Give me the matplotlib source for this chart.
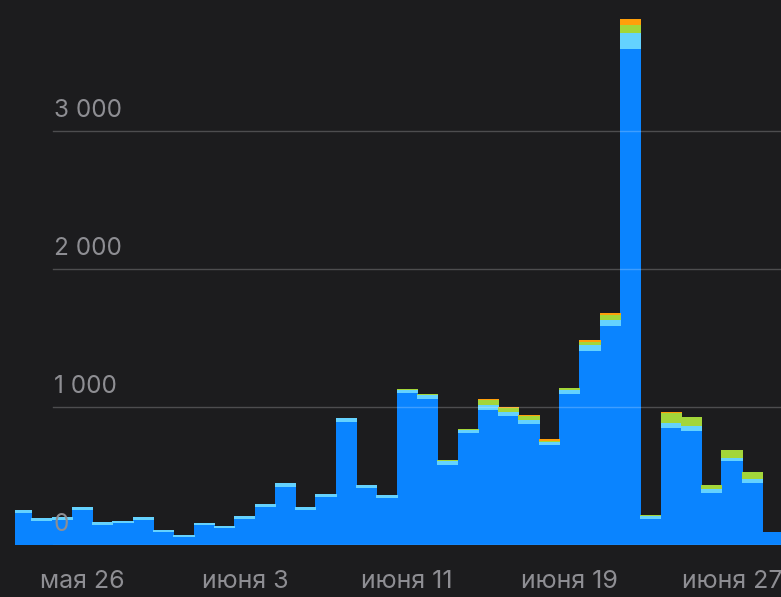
import numpy as np
import matplotlib
matplotlib.use("Agg")
import matplotlib.pyplot as plt

# Daily counts from May 23 to June 29, stacked by category
days = list(range(38))
blue = [232, 172, 178, 256, 145, 156, 179, 91, 55, 142,
        120, 186, 273, 422, 252, 348, 894, 416, 340, 1100,
        1061, 583, 812, 977, 933, 880, 724, 1098, 1407, 1590,
        3599, 187, 852, 830, 375, 609, 447, 91]
cyan = [22, 22, 22, 22, 20, 20, 22, 18, 15, 20,
        20, 22, 22, 25, 22, 22, 25, 22, 22, 25,
        25, 25, 25, 35, 30, 30, 25, 28, 40, 45,
        115, 20, 35, 35, 30, 25, 30, 5]
green = [0, 0, 0, 0, 0, 0, 0, 0, 0, 0,
         0, 0, 0, 0, 0, 0, 0, 0, 0, 8,
         8, 5, 5, 40, 30, 25, 5, 10, 25, 30,
         55, 8, 70, 60, 30, 55, 50, 0]
orange = [0, 0, 0, 0, 0, 0, 0, 0, 0, 0,
          0, 0, 0, 0, 0, 0, 0, 0, 0, 0,
          0, 0, 0, 5, 5, 8, 12, 0, 15, 15,
          45, 0, 5, 5, 0, 0, 0, 0]

tick_pos = [3, 11, 19, 27, 35]
tick_labels = ["мая 26", "июня 3", "июня 11", "июня 19", "июня 27"]
y_ticks = [0, 1000, 2000, 3000]
y_labels = ["0", "1 000", "2 000", "3 000"]

BG = "#1c1c1e"
TXT = "#8e8e93"
plt.rcParams['font.family'] = ['Inter', 'DejaVu Sans']

W, H = 781, 597
fig = plt.figure(figsize=(W / 100, H / 100), dpi=100, facecolor=BG)
# axes in pixel terms: left 15, right 781, baseline at 545 from top
ax = fig.add_axes([15 / W, (H - 545) / H, 766 / W, 545 / H])
ax.set_facecolor(BG)

x = np.array(days)
b = np.array(blue)
c = np.array(cyan)
g = np.array(green)
o = np.array(orange)

# slightly wider than 1 so neighbouring bars leave no hairline seam
layers = [(b, "#0a84ff"), (c, "#64d2ff"), (g, "#a3d63a"), (o, "#ff9f0a")]
bottom = np.zeros(len(x))
for vals, col in layers:
    ax.bar(x, vals, bottom=bottom, width=1.04, color=col, linewidth=0,
           antialiased=False, zorder=2)
    bottom = bottom + vals

px_per_unit = 0.1379
ax.set_ylim(0, 545 / px_per_unit)
ax.set_xlim((15 - 21.55) / 20.3, (781 - 21.55) / 20.3)

# gridlines and labels drawn inside the plot
grid_x0 = (53 - 15) / 766
for yv, lab in zip(y_ticks, y_labels):
    ax.axhline(yv, xmin=grid_x0, xmax=1, color="white", alpha=0.22,
               linewidth=1.0, zorder=3)
    ax.annotate(lab, xy=(grid_x0, yv), xycoords=("axes fraction", "data"),
                xytext=(0.5, 10), textcoords="offset points",
                ha="left", va="baseline", fontsize=17.5, color=TXT, zorder=4)

ax.set_yticks([])
ax.set_xticks(tick_pos)
ax.set_xticklabels(tick_labels, fontsize=18, color=TXT)
ax.tick_params(axis="x", length=0, pad=18)
for s in ax.spines.values():
    s.set_visible(False)

fig.savefig("out.png", dpi=100, facecolor=BG)
